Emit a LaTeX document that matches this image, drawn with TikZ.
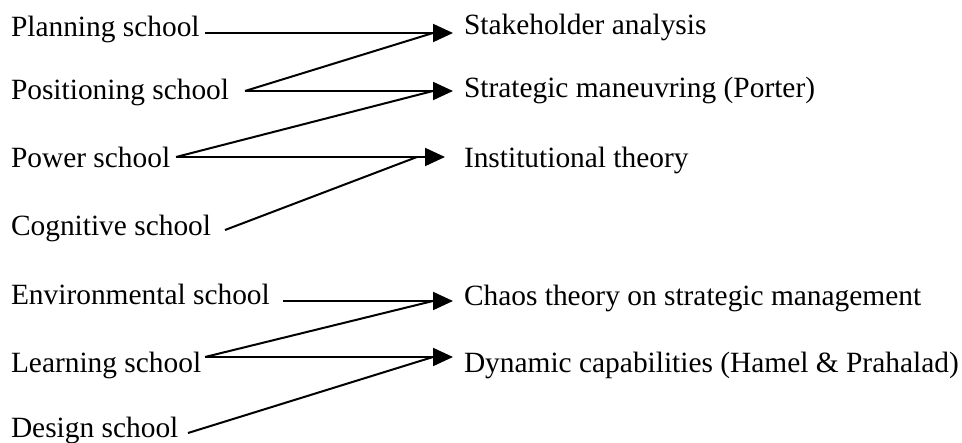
\documentclass[tikz,border=0pt]{standalone}
\usepackage{fontspec}
\setmainfont{Liberation Serif}
\usepackage{tikz}
\usetikzlibrary{calc, arrows.meta}
\tikzset{every node/.append style={font=\fontsize{14.7}{17}\selectfont, inner sep=0pt, anchor=base west}}

\begin{document}
\begin{tikzpicture}[x=0.5pt, y=-0.5pt, >={Triangle[length=10pt, width=9pt]}, line width=1pt]
    \useasboundingbox (0,0) rectangle (962,443);
    % schools on the left
    \node (plan)   at (10,37)  {Planning school};
    \node (pos)    at (10,100) {Positioning school};
    \node (power)  at (10,168) {Power school};
    \node (cog)    at (10,235) {Cognitive school};
    \node (env)    at (10,304) {Environmental school};
    \node (learn)  at (10,372) {Learning school};
    \node (design) at (10,437) {Design school};
    % theories on the right
    \node (stake)  at (463,35)  {Stakeholder analysis};
    \node (maneuv) at (463,98)  {Strategic maneuvring (Porter)};
    \node (inst)   at (463,168) {Institutional theory};
    \node (chaos)  at (463,305) {Chaos theory on strategic management};
    \node (dyncap) at (463,372) {Dynamic capabilities (Hamel \& Prahalad)};
    % line ends
    \coordinate (plan-o)   at (205,33);
    \coordinate (pos-o)    at (245,91);
    \coordinate (power-o)  at (176,157);
    \coordinate (cog-o)    at (225,230);
    \coordinate (env-o)    at (283,301);
    \coordinate (learn-o)  at (205,357);
    \coordinate (design-o) at (188,433);
    \coordinate (stake-i)  at (453,33);
    \coordinate (maneuv-i) at (453,91);
    \coordinate (inst-i)   at (445,157);
    \coordinate (chaos-i)  at (453,301);
    \coordinate (dyncap-i) at (453,357);
    % links
    \draw[->] (plan-o) -- (stake-i);
    \draw (pos-o) -- ($(stake-i)+(-20,0)$);
    \draw[->] (pos-o) -- (maneuv-i);
    \draw (power-o) -- ($(maneuv-i)+(-20,0)$);
    \draw[->] (power-o) -- (inst-i);
    \draw (cog-o) -- ($(inst-i)+(-28,0)$);
    \draw[->] (env-o) -- (chaos-i);
    \draw (learn-o) -- ($(chaos-i)+(-20,0)$);
    \draw[->] (learn-o) -- (dyncap-i);
    \draw (design-o) -- ($(dyncap-i)+(-20,0)$);
\end{tikzpicture}
\end{document}
